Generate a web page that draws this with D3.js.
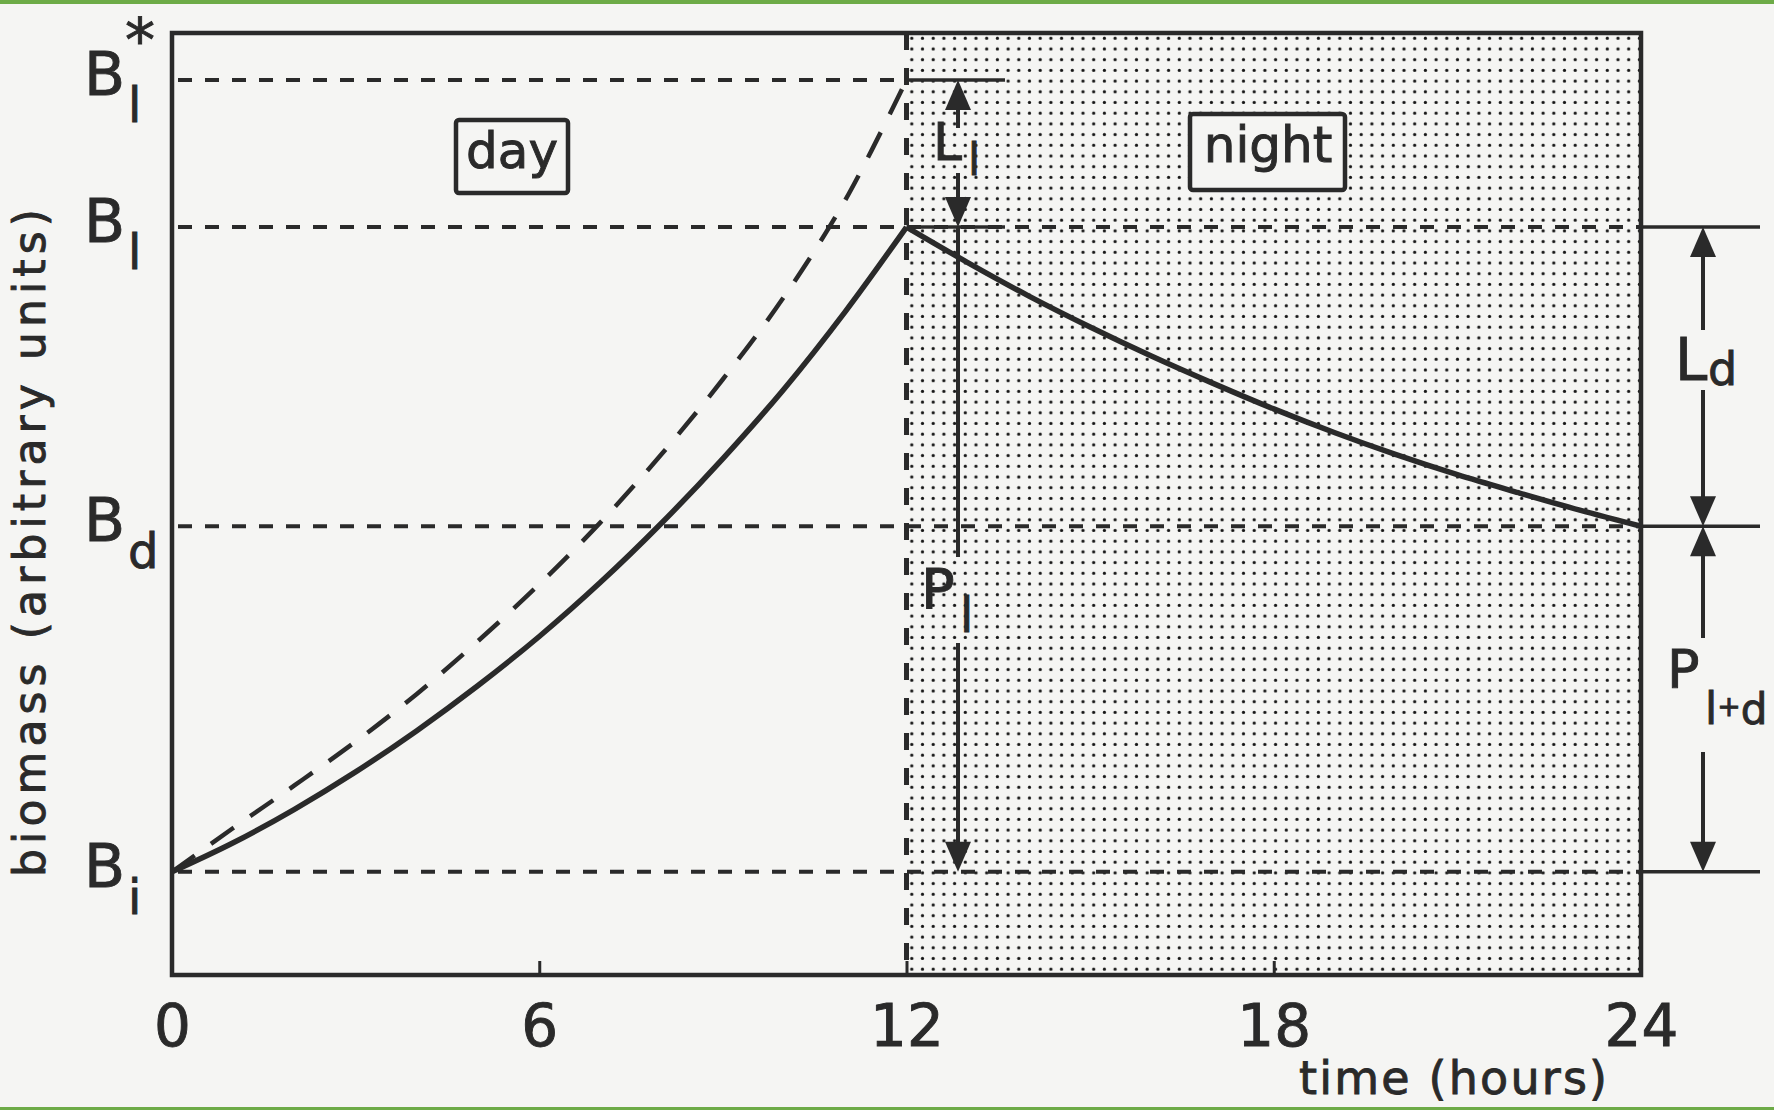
<!DOCTYPE html>
<html>
<head>
<meta charset="utf-8">
<script src="https://cdn.jsdelivr.net/npm/d3@7"></script>
<style>
  html, body { margin: 0; padding: 0; background: #f5f5f3; }
  svg { display: block; }
  text { font-family: "DejaVu Sans", sans-serif; fill: #2a2a2a; stroke: #2a2a2a; stroke-width: 0.9px; }
</style>
</head>
<body>
<svg id="chart" width="1774" height="1110"></svg>
<script>
// Time axis (hours) and tick labels
const xTicks = [0, 6, 12, 18, 24];
const dayHours = [0, 1, 2, 3, 4, 5, 6, 7, 8, 9, 10, 11, 12];
const nightHours = [12, 13, 14, 15, 16, 17, 18, 19, 20, 21, 22, 23, 24];

// Biomass during the light period (net growth) and the potential gross growth
const dayBiomass = [1.000, 1.045, 1.097, 1.155, 1.219, 1.289, 1.365, 1.449, 1.541, 1.641, 1.749, 1.869, 2.000];
const dayPotential = [1.000, 1.068, 1.134, 1.202, 1.276, 1.358, 1.446, 1.542, 1.648, 1.764, 1.892, 2.042, 2.228];
// Biomass loss during the dark period
const nightBiomass = [2.000, 1.945, 1.893, 1.845, 1.800, 1.758, 1.718, 1.681, 1.647, 1.616, 1.588, 1.561, 1.536];

// Reference biomass levels (arbitrary units)
const levelKeys = ["Bi", "Bd", "Bl", "BlStar"];
const levelValues = [1.000, 1.536, 2.000, 2.228];
const levelSubs = ["i", "d", "l", "l"];
const levelSups = ["", "", "", "*"];

const level = {};
levelKeys.forEach((k, i) => level[k] = levelValues[i]);

const ink = "#2a2a2a";
const paper = "#f5f5f3";
const svg = d3.select("#chart");

const plotL = 172, plotR = 1641, plotT = 33, plotB = 975;
const x = d3.scaleLinear().domain([0, 24]).range([plotL, plotR]);
const y = d3.scaleLinear().domain([0.840, 2.301]).range([plotB, plotT]);

// Green rules at page top and bottom
svg.append("rect").attr("x", 0).attr("y", 0).attr("width", 1774).attr("height", 4).attr("fill", "#6dab47");
svg.append("rect").attr("x", 0).attr("y", 1107).attr("width", 1774).attr("height", 3).attr("fill", "#6dab47");

// Stippled night half
const defs = svg.append("defs");
const pat = defs.append("pattern").attr("id", "dots")
  .attr("patternUnits", "userSpaceOnUse")
  .attr("x", x(12)).attr("y", plotT)
  .attr("width", 10.7).attr("height", 10.7);
pat.append("rect").attr("width", 10.7).attr("height", 10.7).attr("fill", paper);
pat.append("circle").attr("cx", 5.3).attr("cy", 5.3).attr("r", 1.6).attr("fill", "#151515");

svg.append("rect")
  .attr("x", x(12)).attr("y", plotT)
  .attr("width", x(24) - x(12)).attr("height", plotB - plotT)
  .attr("fill", "url(#dots)");

// Period boxes
function periodBox(cx, x0, y0, w, h, label) {
  svg.append("rect").attr("x", x0).attr("y", y0).attr("width", w).attr("height", h)
    .attr("rx", 3).attr("fill", paper).attr("stroke", ink).attr("stroke-width", 4.5);
  svg.append("text").attr("x", cx).attr("y", y0 + 48).attr("text-anchor", "middle")
    .attr("font-size", 50).text(label);
}
periodBox(512, 456, 120, 112, 73, "day");
periodBox(1268, 1190, 114, 155, 76, "night");

// Dashed reference levels
const hDash = "14,13";
function hLine(x0, x1, v, dash, w) {
  svg.append("line").attr("x1", x0).attr("x2", x1).attr("y1", y(v)).attr("y2", y(v))
    .attr("stroke", ink).attr("stroke-width", w || 4)
    .attr("stroke-dasharray", dash || null);
}
hLine(plotL + 6, x(12), level.BlStar, hDash);
hLine(plotL + 6, plotR, level.Bl, hDash);
hLine(plotL + 6, plotR, level.Bd, hDash);
hLine(plotL + 6, plotR, level.Bi, hDash);

// Solid extension lines for the dimension arrows
hLine(x(12), 1005, level.BlStar, null, 3.5);
hLine(x(12), 1005, level.Bl, null, 3.5);
hLine(plotR, 1760, level.Bl, null, 3.5);
hLine(plotR, 1760, level.Bd, null, 3.5);
hLine(plotR, 1760, level.Bi, null, 3.5);

// Day / night boundary
svg.append("line").attr("x1", x(12)).attr("x2", x(12)).attr("y1", plotT).attr("y2", plotB)
  .attr("stroke", ink).attr("stroke-width", 5).attr("stroke-dasharray", "17,18");

// Curves
const line = d3.line().x(d => x(d[0])).y(d => y(d[1])).curve(d3.curveCatmullRom.alpha(0.5));
svg.append("path").datum(dayHours.map((h, i) => [h, dayPotential[i]]))
  .attr("d", line).attr("fill", "none").attr("stroke", ink)
  .attr("stroke-width", 4.5).attr("stroke-dasharray", "28,20");
svg.append("path").datum(dayHours.map((h, i) => [h, dayBiomass[i]]))
  .attr("d", line).attr("fill", "none").attr("stroke", ink).attr("stroke-width", 5.5);
svg.append("path").datum(nightHours.map((h, i) => [h, nightBiomass[i]]))
  .attr("d", line).attr("fill", "none").attr("stroke", ink).attr("stroke-width", 5.5);

// Frame
svg.append("rect").attr("x", plotL).attr("y", plotT).attr("width", plotR - plotL).attr("height", plotB - plotT)
  .attr("fill", "none").attr("stroke", ink).attr("stroke-width", 4.5);

// Time axis with inward ticks
const xAxis = d3.axisBottom(x).tickValues(xTicks).tickSize(-14).tickPadding(30).tickFormat(d3.format("d"));
const gx = svg.append("g").attr("transform", `translate(0,${plotB})`).call(xAxis);
gx.select(".domain").remove();
gx.selectAll(".tick line").attr("stroke", ink).attr("stroke-width", 3);
gx.selectAll(".tick text").attr("font-size", 58).attr("font-family", "DejaVu Sans")
  .attr("fill", ink).attr("dy", "0.71em");

// Dimension arrows
function head(px, tipY, dir) {
  const w = 13, h = 30;
  const baseY = tipY - dir * h;
  svg.append("path")
    .attr("d", `M${px},${tipY} L${px - w},${baseY} L${px + w},${baseY} Z`)
    .attr("fill", ink);
}
function seg(px, y0, y1) {
  svg.append("line").attr("x1", px).attr("x2", px).attr("y1", y0).attr("y2", y1)
    .attr("stroke", ink).attr("stroke-width", 4);
}
const ax1 = 958, ax2 = 1703;
// L_l
head(ax1, y(level.BlStar), -1);
seg(ax1, y(level.BlStar) + 25, 128);
seg(ax1, 173, y(level.Bl) - 25);
head(ax1, y(level.Bl), 1);
// P_l
seg(ax1, y(level.Bl), 557);
seg(ax1, 643, y(level.Bi) - 25);
head(ax1, y(level.Bi), 1);
// L_d
head(ax2, y(level.Bl), -1);
seg(ax2, y(level.Bl) + 25, 330);
seg(ax2, 390, y(level.Bd) - 25);
head(ax2, y(level.Bd), 1);
// P_{l+d}
head(ax2, y(level.Bd), -1);
seg(ax2, y(level.Bd) + 25, 638);
seg(ax2, 752, y(level.Bi) - 25);
head(ax2, y(level.Bi), 1);

// Arrow labels: main letter plus lowered subscript, as one text element
function label(x0, base, main, mainSize, parts) {
  const t = svg.append("text").attr("x", x0).attr("y", base).attr("font-size", mainSize);
  t.append("tspan").text(main);
  parts.forEach(p => {
    const s = t.append("tspan").attr("font-size", p.size).text(p.text);
    if (p.x !== undefined) s.attr("x", p.x);
    if (p.y !== undefined) s.attr("y", p.y);
  });
}
label(933, 160, "L", 52, [{ text: "l", size: 44, x: 968, y: 175 }]);
label(921, 608, "P", 56, [{ text: "l", size: 48, x: 960, y: 632 }]);
label(1675, 380, "L", 58, [{ text: "d", size: 46, x: 1708, y: 385 }]);
label(1667, 688, "P", 54, [
  { text: "l", size: 44, x: 1705, y: 724 },
  { text: "+", size: 28, y: 716 },
  { text: "d", size: 42, y: 724 }
]);

// Level labels on the biomass axis
levelKeys.forEach((k, i) => {
  const ly = y(levelValues[i]);
  const t = svg.append("text").attr("x", 84).attr("y", ly + 15).attr("font-size", 60);
  t.append("tspan").text("B");
  t.append("tspan").attr("x", 128).attr("y", ly + 42).attr("font-size", 48).text(levelSubs[i]);
  if (levelSups[i]) {
    t.append("tspan").attr("x", 125).attr("y", ly - 19).attr("font-size", 60).text(levelSups[i]);
  }
});

// Axis titles
svg.append("text")
  .attr("transform", `translate(45,${543}) rotate(-90)`)
  .attr("text-anchor", "middle").attr("font-size", 44)
  .attr("textLength", 668).attr("lengthAdjust", "spacing")
  .text("biomass (arbitrary units)");
svg.append("text")
  .attr("x", 1299).attr("y", 1094).attr("font-size", 46)
  .attr("textLength", 308).attr("lengthAdjust", "spacing")
  .text("time (hours)");
</script>
</body>
</html>
